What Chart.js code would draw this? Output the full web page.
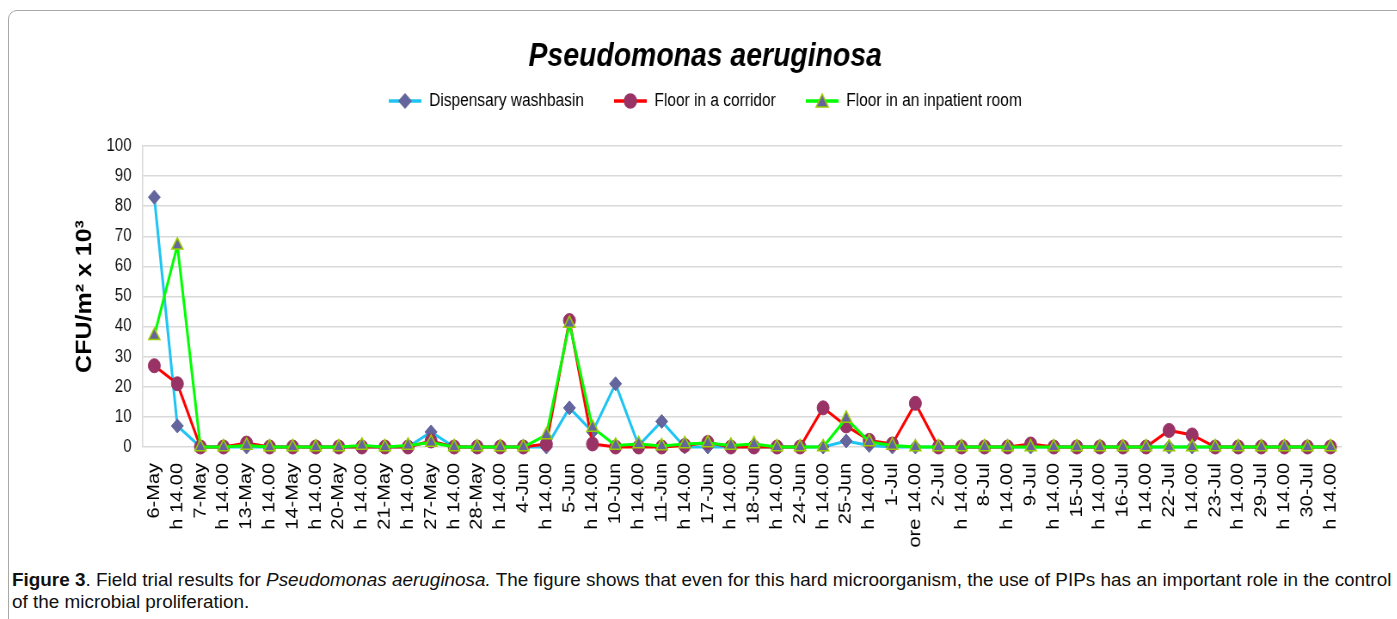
<!DOCTYPE html>
<html>
<head>
<meta charset="utf-8">
<script src="https://cdn.jsdelivr.net/npm/chart.js@4.4.0/dist/chart.umd.min.js"></script>
<style>
  html, body { margin: 0; padding: 0; background: #fff; }
  body { width: 1397px; height: 619px; position: relative; overflow: hidden; }
  .frame { position: absolute; left: 8px; top: 10px; width: 1430px; height: 660px; border: 1px solid #a8a8a8; border-radius: 9px; }
  /* the source figure is squeezed horizontally, so the canvas is too */
  #wrap { position: absolute; left: 0; top: 0; width: 1624px; height: 560px; transform: scaleX(0.86); transform-origin: 0 0; }
  .caption { position: absolute; left: 12px; top: 569px; font-family: 'Liberation Sans', Arial, sans-serif; font-size: 18.9px; line-height: 22px; color: #111; white-space: nowrap; }
</style>
</head>
<body>
<div class="frame"></div>
<div id="wrap"><canvas id="pseudoChart"></canvas></div>
<div class="caption"><b>Figure 3</b>. Field trial results for <i>Pseudomonas aeruginosa.</i> The figure shows that even for this hard microorganism, the use of PIPs has an important role in the control<br>of the microbial proliferation.</div>
<script>
const categories = ['6-May', 'h 14.00', '7-May', 'h 14.00', '13-May', 'h 14.00', '14-May', 'h 14.00',
    '20-May', 'h 14.00', '21-May', 'h 14.00', '27-May', 'h 14.00', '28-May', 'h 14.00',
    '4-Jun', 'h 14.00', '5-Jun', 'h 14.00', '10-Jun', 'h 14.00', '11-Jun', 'h 14.00',
    '17-Jun', 'h 14.00', '18-Jun', 'h 14.00', '24-Jun', 'h 14.00', '25-Jun', 'h 14.00',
    '1-Jul', 'ore 14.00', '2-Jul', 'h 14.00', '8-Jul', 'h 14.00', '9-Jul', 'h 14.00',
    '15-Jul', 'h 14.00', '16-Jul', 'h 14.00', '22-Jul', 'h 14.00', '23-Jul', 'h 14.00',
    '29-Jul', 'h 14.00', '30-Jul', 'h 14.00'];

const washbasin = [83, 7, 0, 0, 0, 0, 0, 0, 0, 0, 0, 0, 5, 0, 0, 0,
    0, 0, 13, 5, 21, 0.5, 8.5, 0, 0, 0, 0, 0, 0, 0, 2, 0.5,
    0, 0, 0, 0, 0, 0, 0, 0, 0, 0, 0, 0, 0, 0, 0, 0, 0, 0, 0, 0];

const corridor = [27, 21, 0, 0, 1.3, 0, 0, 0, 0, 0, 0, 0, 2, 0, 0, 0,
    0, 1, 42, 1, 0, 0, 0, 0.5, 1.5, 0, 0, 0, 0, 13, 7, 2.2,
    1, 14.5, 0, 0, 0, 0, 1, 0, 0, 0, 0, 0, 5.5, 4, 0, 0, 0, 0, 0, 0];

const inpatient = [37, 67, 0, 0, 0.5, 0, 0, 0, 0, 0.5, 0, 0.5, 1.5, 0, 0, 0,
    0, 4, 41, 6.5, 0.5, 1, 0.3, 1, 1.3, 0.5, 1, 0, 0, 0, 9.5, 1.7,
    0.5, 0, 0, 0, 0, 0, 0, 0, 0, 0, 0, 0, 0, 0, 0, 0, 0, 0, 0, 0];

const yMin = 0, yMax = 100, yStep = 10;

const ARIAL = "'Liberation Sans', Arial, sans-serif";

// line + marker icon for the legend
function makeIcon(lineColor, shape, fill, stroke) {
    const c = document.createElement('canvas');
    c.width = 38; c.height = 18;
    const g = c.getContext('2d');
    g.strokeStyle = lineColor; g.lineWidth = 3.5;
    g.beginPath(); g.moveTo(0, 9); g.lineTo(38, 9); g.stroke();
    g.fillStyle = fill; g.strokeStyle = stroke; g.lineWidth = 1.5;
    g.beginPath();
    if (shape === 'diamond') {
        g.moveTo(19, 2); g.lineTo(26, 9); g.lineTo(19, 16); g.lineTo(12, 9); g.closePath();
    } else if (shape === 'circle') {
        g.arc(19, 9, 7, 0, Math.PI * 2);
    } else {
        g.moveTo(19, 2); g.lineTo(26, 15); g.lineTo(12, 15); g.closePath();
    }
    g.fill(); g.stroke();
    return c;
}
const icons = [
    makeIcon('#1ec4f2', 'diamond', '#65659e', '#65659e'),
    makeIcon('#ff0000', 'circle', '#993366', '#993366'),
    makeIcon('#00ff00', 'triangle', '#65659e', '#99cc00')
];

const legendGap = {
    id: 'legendGap',
    beforeInit(chart) {
        const fit = chart.legend.fit;
        chart.legend.fit = function () { fit.call(this); this.height += 26; };
    }
};

const ctx = document.getElementById('pseudoChart').getContext('2d');
const pseudoChart = new Chart(ctx, {
    type: 'line',
    data: {
        labels: categories,
        datasets: [{
            label: 'Dispensary washbasin',
            data: washbasin,
            borderColor: '#1ec4f2',
            borderWidth: 3,
            pointStyle: 'rectRot',
            pointRadius: 7,
            pointBackgroundColor: '#65659e',
            pointBorderColor: '#65659e',
            pointBorderWidth: 1,
            order: 2
        }, {
            label: 'Floor in a corridor',
            data: corridor,
            borderColor: '#ff0000',
            borderWidth: 3,
            pointStyle: 'circle',
            pointRadius: 7,
            pointBackgroundColor: '#993366',
            pointBorderColor: '#993366',
            pointBorderWidth: 1,
            order: 1
        }, {
            label: 'Floor in an inpatient room',
            data: inpatient,
            borderColor: '#00ff00',
            borderWidth: 3,
            pointStyle: 'triangle',
            pointRadius: 7.5,
            pointBackgroundColor: '#65659e',
            pointBorderColor: '#99cc00',
            pointBorderWidth: 1.5,
            order: 0
        }]
    },
    options: {
        responsive: true,
        maintainAspectRatio: false,
        animation: false,
        clip: false,
        layout: { padding: { left: 16, right: 0, top: 0, bottom: 0 } },
        plugins: {
            title: {
                display: true,
                text: 'Pseudomonas aeruginosa',
                color: '#000',
                font: { family: ARIAL, size: 33, weight: 'bold', style: 'italic', lineHeight: 1 },
                padding: { top: 40, bottom: -16 }
            },
            legend: {
                labels: {
                    usePointStyle: true,
                    pointStyleWidth: 38,
                    boxHeight: 16,
                    padding: 35,
                    color: '#000',
                    font: { family: ARIAL, size: 18 },
                    sort: (a, b) => a.datasetIndex - b.datasetIndex,
                    generateLabels(chart) {
                        const items = Chart.defaults.plugins.legend.labels.generateLabels(chart);
                        items.forEach(it => { it.pointStyle = icons[it.datasetIndex]; });
                        return items;
                    }
                }
            },
            tooltip: { enabled: false }
        },
        scales: {
            x: {
                offset: true,
                grid: { display: false, drawTicks: false },
                border: { display: false },
                ticks: {
                    autoSkip: false,
                    minRotation: 90,
                    maxRotation: 90,
                    padding: 16,
                    color: '#000',
                    font: { family: ARIAL, size: 20 }
                },
                afterFit(scale) { scale.height = 113; }
            },
            y: {
                min: yMin,
                max: yMax,
                grid: { color: '#d9d9d9', lineWidth: 1.5, drawTicks: false },
                border: { color: '#d9d9d9', width: 1.5 },
                ticks: {
                    stepSize: yStep,
                    padding: 13,
                    color: '#111',
                    font: { family: ARIAL, size: 17.5 }
                },
                title: {
                    display: true,
                    text: 'CFU/m² x 10³',
                    color: '#000',
                    font: { family: ARIAL, size: 25, weight: 'bold' },
                    padding: { top: 68, bottom: 0 }
                },
                afterFit(scale) { scale.width = 150; }
            },
            yRight: {
                position: 'right',
                min: yMin,
                max: yMax,
                grid: { display: false },
                border: { display: false },
                ticks: { display: false },
                afterFit(scale) { scale.width = 63.5; }
            }
        }
    },
    plugins: [legendGap]
});
</script>
</body>
</html>
